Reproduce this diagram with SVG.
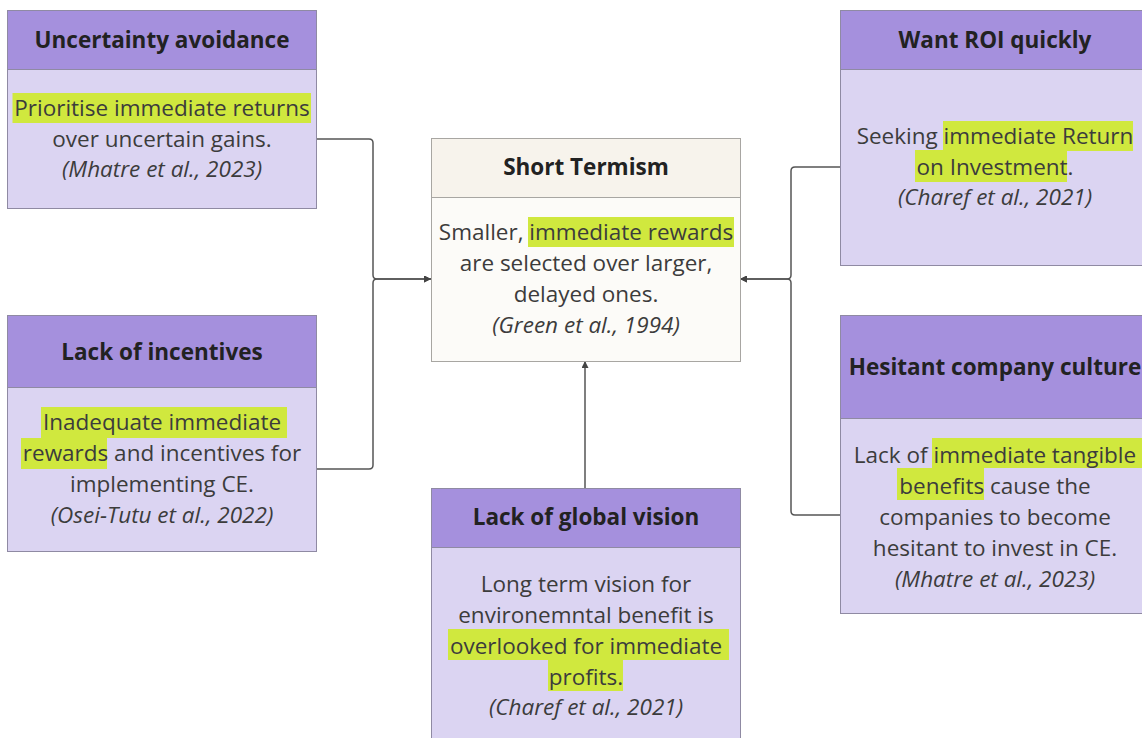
<svg xmlns="http://www.w3.org/2000/svg" width="1142" height="738" viewBox="0 0 1142 738">
  <style>
    .hdr { fill: #a590dd; stroke: #8f8aa3; stroke-width: 1; }
    .bdy { fill: #dbd4f2; stroke: #8f8aa3; stroke-width: 1; }
    .hdr2 { fill: #f7f3ec; stroke: #a8a6a2; stroke-width: 1; }
    .bdy2 { fill: #fcfbf8; stroke: #a8a6a2; stroke-width: 1; }
    .title { font-family: "Open Sans", "Liberation Sans", sans-serif; font-weight: 700; font-size: 22.5px; fill: #222222; text-anchor: middle; }
    .txt { font-family: "Open Sans", "Liberation Sans", sans-serif; font-size: 22.5px; fill: #3c3c3c; text-anchor: middle; }
    .cite { font-style: italic; }
    .hl { fill: #d0e83e; }
    .wire { fill: none; stroke: #555555; stroke-width: 1.5; }
  </style>
  <defs>
    <marker id="arrow" viewBox="0 0 10 10" refX="10" refY="5" markerWidth="7" markerHeight="7" markerUnits="userSpaceOnUse" orient="auto">
      <path d="M0,0 L10,5 L0,10 z" fill="#444444"/>
    </marker>
  </defs>

  <rect width="1142" height="738" fill="#ffffff"/>

  <!-- connectors -->
  <g id="connectors">
    <path class="wire" d="M316,139 H369 Q373,139 373,143 V275 Q373,279 377,279 H431" marker-end="url(#arrow)"/>
    <path class="wire" d="M316,469 H369 Q373,469 373,465 V283 Q373,279 377,279 H431" marker-end="url(#arrow)"/>
    <path class="wire" d="M840,167 H795 Q791,167 791,171 V275 Q791,279 787,279 H740" marker-end="url(#arrow)"/>
    <path class="wire" d="M840,515 H795 Q791,515 791,511 V283 Q791,279 787,279 H740" marker-end="url(#arrow)"/>
    <path class="wire" d="M585,488 V361" marker-end="url(#arrow)"/>
  </g>

  <!-- Short Termism -->
  <g id="short-termism">
    <rect class="bdy2" x="431.5" y="138.5" width="309" height="223"/>
    <rect class="hdr2" x="431.5" y="138.5" width="309" height="59"/>
    <text class="title" x="586" y="175">Short Termism</text>
    <rect class="hl" x="528" y="217" width="206" height="30"/>
    <text class="txt" x="586" y="240">Smaller, immediate rewards</text>
    <text class="txt" x="586" y="271">are selected over larger,</text>
    <text class="txt" x="586" y="302">delayed ones.</text>
    <text class="txt cite" x="586" y="333">(Green et al., 1994)</text>
  </g>

  <!-- Uncertainty avoidance -->
  <g id="uncertainty-avoidance">
    <rect class="bdy" x="7.5" y="10.5" width="309" height="198"/>
    <rect class="hdr" x="7.5" y="10.5" width="309" height="59"/>
    <text class="title" x="162" y="48">Uncertainty avoidance</text>
    <rect class="hl" x="12.5" y="93" width="298.5" height="30"/>
    <text class="txt" x="162" y="115.5">Prioritise immediate returns</text>
    <text class="txt" x="162" y="146.5">over uncertain gains.</text>
    <text class="txt cite" x="162" y="177">(Mhatre et al., 2023)</text>
  </g>

  <!-- Lack of incentives -->
  <g id="lack-of-incentives">
    <rect class="bdy" x="7.5" y="315.5" width="309" height="236"/>
    <rect class="hdr" x="7.5" y="315.5" width="309" height="72"/>
    <text class="title" x="162" y="360">Lack of incentives</text>
    <rect class="hl" x="41" y="407" width="246" height="31"/>
    <rect class="hl" x="21" y="438" width="86" height="31"/>
    <text class="txt" x="162" y="430">Inadequate immediate </text>
    <text class="txt" x="162" y="461">rewards and incentives for</text>
    <text class="txt" x="162" y="492">implementing CE.</text>
    <text class="txt cite" x="162" y="523">(Osei-Tutu et al., 2022)</text>
  </g>

  <!-- Want ROI quickly -->
  <g id="want-roi-quickly">
    <rect class="bdy" x="840.5" y="10.5" width="309" height="255"/>
    <rect class="hdr" x="840.5" y="10.5" width="309" height="59"/>
    <text class="title" x="995" y="48">Want ROI quickly</text>
    <rect class="hl" x="943" y="121" width="190" height="30"/>
    <rect class="hl" x="915" y="150" width="152" height="32"/>
    <text class="txt" x="995" y="143.5">Seeking immediate Return </text>
    <text class="txt" x="995" y="174.5">on Investment.</text>
    <text class="txt cite" x="995" y="205">(Charef et al., 2021)</text>
  </g>

  <!-- Hesitant company culture -->
  <g id="hesitant-company-culture">
    <rect class="bdy" x="840.5" y="315.5" width="309" height="298"/>
    <rect class="hdr" x="840.5" y="315.5" width="309" height="103"/>
    <text class="title" x="995" y="375">Hesitant company culture</text>
    <rect class="hl" x="932" y="438" width="215" height="30"/>
    <rect class="hl" x="897" y="468" width="87" height="32"/>
    <text class="txt" x="995" y="463">Lack of immediate tangible </text>
    <text class="txt" x="995" y="494">benefits cause the</text>
    <text class="txt" x="995" y="525">companies to become</text>
    <text class="txt" x="995" y="556">hesitant to invest in CE.</text>
    <text class="txt cite" x="995" y="587">(Mhatre et al., 2023)</text>
  </g>

  <!-- Lack of global vision -->
  <g id="lack-of-global-vision">
    <rect class="bdy" x="431.5" y="488.5" width="309" height="260"/>
    <rect class="hdr" x="431.5" y="488.5" width="309" height="59"/>
    <text class="title" x="586" y="525">Lack of global vision</text>
    <rect class="hl" x="448" y="629" width="281" height="31"/>
    <rect class="hl" x="548" y="660" width="75" height="31"/>
    <text class="txt" x="586" y="592">Long term vision for</text>
    <text class="txt" x="586" y="623">environemntal benefit is</text>
    <text class="txt" x="586" y="653.5">overlooked for immediate </text>
    <text class="txt" x="586" y="684.5">profits.</text>
    <text class="txt cite" x="586" y="715">(Charef et al., 2021)</text>
  </g>
</svg>
